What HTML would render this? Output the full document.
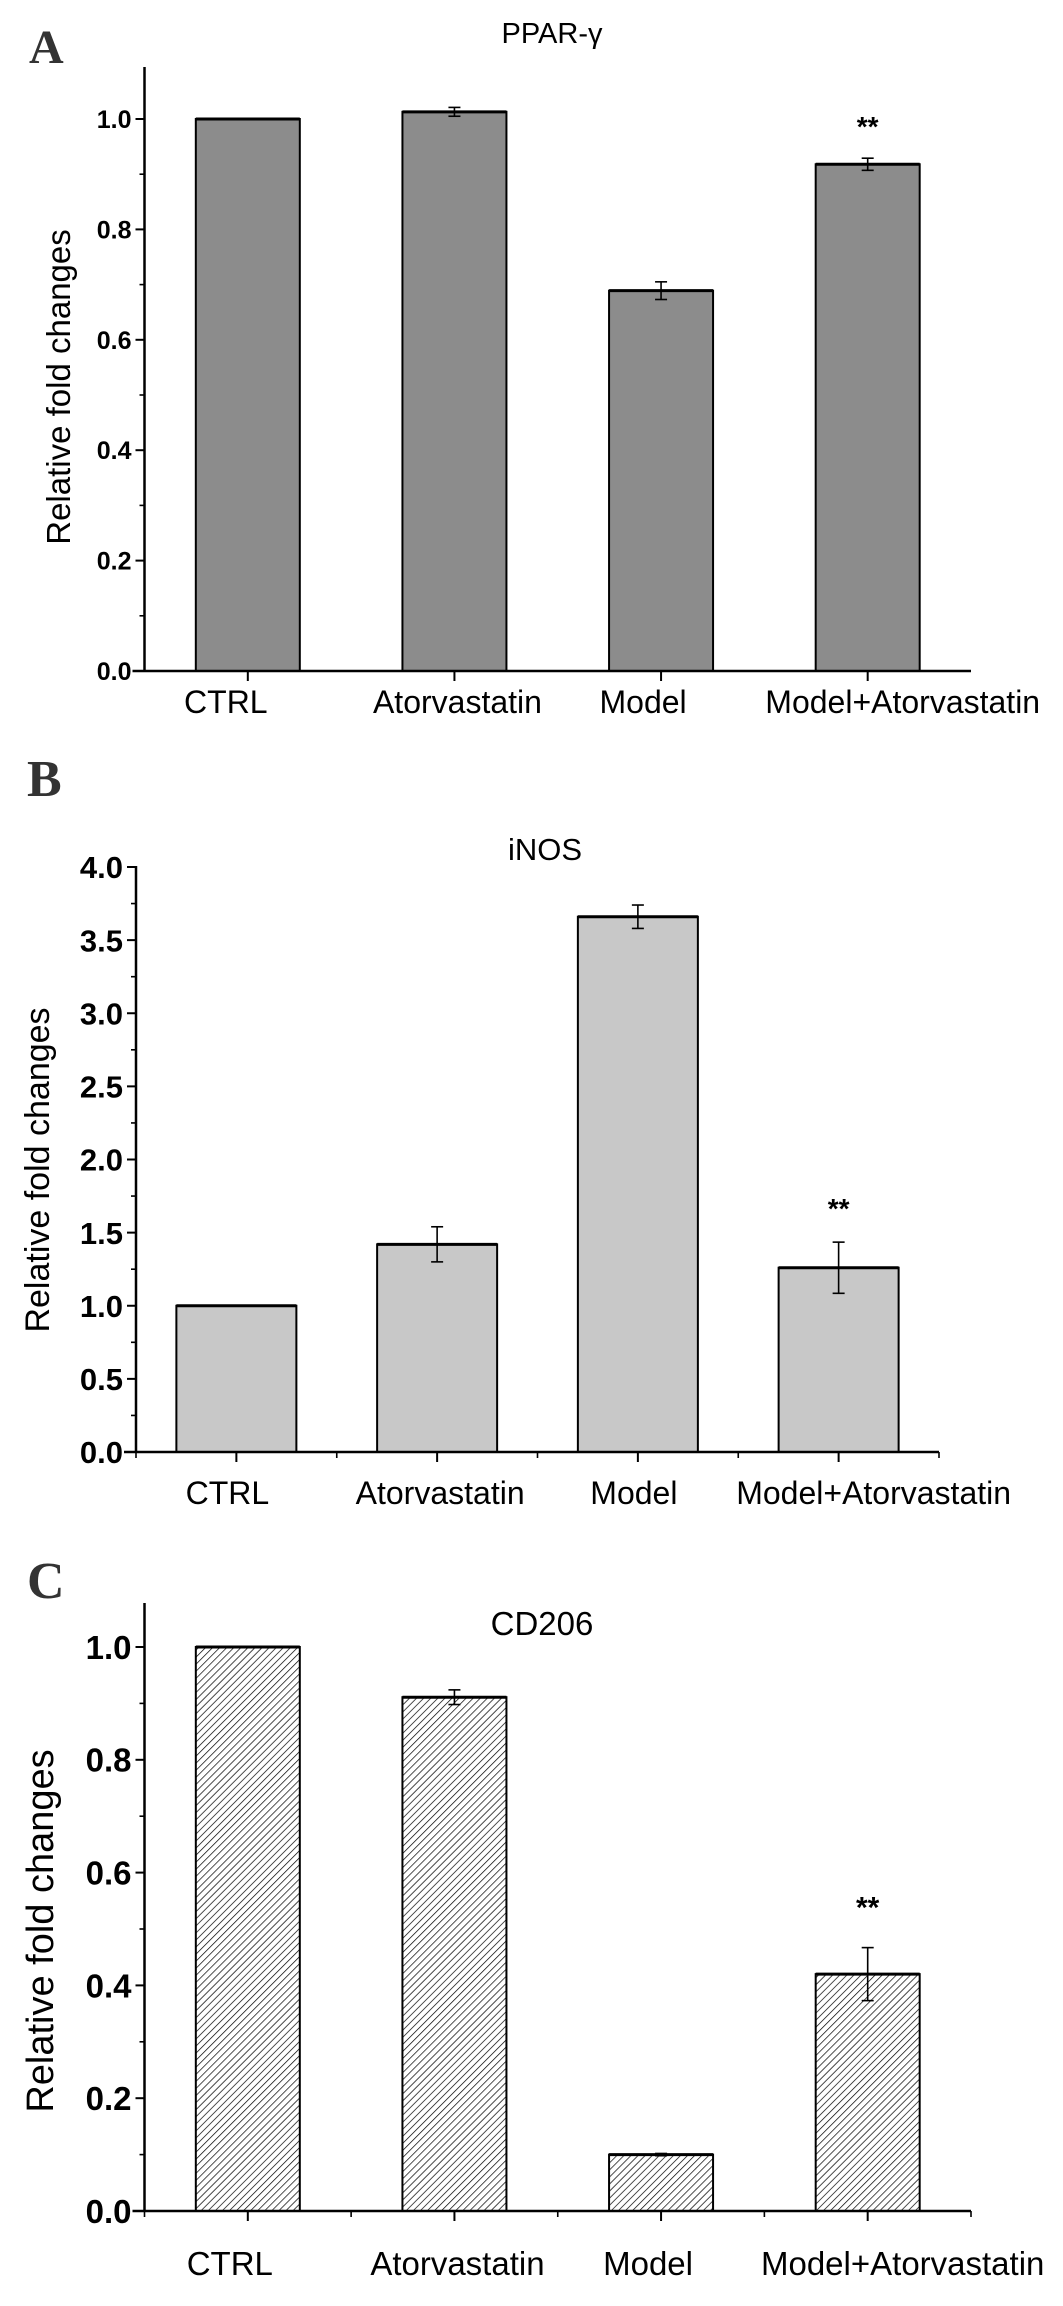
<!DOCTYPE html>
<html>
<head>
<meta charset="utf-8">
<style>
html,body{margin:0;padding:0;background:#fff;}
svg{display:block;}
text{font-family:"Liberation Sans",Arial,sans-serif;fill:#000;}
</style>
</head>
<body>
<svg id="fig" width="1063" height="2306" viewBox="0 0 1063 2306" xmlns="http://www.w3.org/2000/svg">
<defs>
<pattern id="hatch" patternUnits="userSpaceOnUse" width="5" height="5" patternTransform="rotate(45)">
<rect width="5" height="5" fill="#fff"/>
<line x1="0" y1="0" x2="0" y2="5" stroke="#000" stroke-width="1.4"/>
</pattern>
</defs>
</svg>
<script>
const categories = ["CTRL", "Atorvastatin", "Model", "Model+Atorvastatin"];
const ppargValues = [1.0, 1.013, 0.689, 0.918];
const ppargErrors = [0, 0.008, 0.016, 0.011];
const ppargStars = ["", "", "", "**"];
const ppargTicks = ["0.0", "0.2", "0.4", "0.6", "0.8", "1.0"];
const inosValues = [1.0, 1.42, 3.66, 1.26];
const inosErrors = [0, 0.12, 0.08, 0.175];
const inosStars = ["", "", "", "**"];
const inosTicks = ["0.0", "0.5", "1.0", "1.5", "2.0", "2.5", "3.0", "3.5", "4.0"];
const cd206Values = [1.0, 0.911, 0.10, 0.42];
const cd206Errors = [0, 0.013, 0.002, 0.047];
const cd206Stars = ["", "", "", "**"];
const cd206Ticks = ["0.0", "0.2", "0.4", "0.6", "0.8", "1.0"];

const NS = "http://www.w3.org/2000/svg";
const svg = document.getElementById("fig");
function mk(tag, attrs, parent) {
  const e = document.createElementNS(NS, tag);
  for (const k in attrs) e.setAttribute(k, attrs[k]);
  (parent || svg).appendChild(e);
  return e;
}

function panel(p) {
  const g = mk("g", {});
  
  
  const yScale = v => p.y0 - (v - p.vmin) / (p.vmax - p.vmin) * (p.y0 - p.yTop);
  const slot = (p.x1 - p.x0) / categories.length;
  const xCenter = i => p.x0 + slot * (i + 0.5);

  // panel letter
  const L = mk("text", {x: p.letterX, y: p.letterY, "font-family": "Liberation Serif, serif", "font-weight": "bold", "font-size": p.letterSize, fill: "#333"}, g);
  L.textContent = p.letter;
  L.style.fill = "#333";
  L.style.fontFamily = '"Liberation Serif", serif';
  
  

  // title
  const T = mk("text", {x: p.titleX, y: p.titleY, "text-anchor": "middle", "font-size": p.titleSize}, g);
  T.textContent = p.title;
  
  

  // bars
  p.values.forEach((v, i) => {
    const cx = xCenter(i);
    const top = yScale(v);
    const r = mk("rect", {x: cx - p.barW / 2, y: top, width: p.barW, height: p.y0 - top, fill: p.fill, stroke: "#000", "stroke-width": 2}, g);
    
    
    mk("line", {x1: cx - p.barW / 2, x2: cx + p.barW / 2, y1: top, y2: top, stroke: "#000", "stroke-width": 3}, g);
    const e = p.errors[i];
    if (e > 0) {
      const eg = mk("g", {stroke: "#000", "stroke-width": 1.6}, g);
      
      
      mk("line", {x1: cx, x2: cx, y1: yScale(v + e), y2: yScale(v - e)}, eg);
      mk("line", {x1: cx - 6, x2: cx + 6, y1: yScale(v + e), y2: yScale(v + e)}, eg);
      mk("line", {x1: cx - 6, x2: cx + 6, y1: yScale(v - e), y2: yScale(v - e)}, eg);
    }
    if (p.stars[i]) {
      const s = mk("text", {x: cx, y: yScale(v + e) - p.starGap, "text-anchor": "middle", "font-size": p.starSize, "font-weight": "bold"}, g);
      s.textContent = p.stars[i];
      
      
    }
    const lab = mk("text", {x: cx + p.labelOff[i], y: p.labelY, "text-anchor": "middle", "font-size": p.labelSize}, g);
    lab.textContent = categories[i];
    
    
  });

  // axes
  const ax = mk("g", {stroke: "#000", "stroke-width": 2.5}, g);
  
  
  mk("line", {x1: p.x0, x2: p.x0, y1: p.axisTop, y2: p.y0 + 1}, ax);
  mk("line", {x1: p.x0 - 12, x2: p.x1, y1: p.y0, y2: p.y0}, ax);
  // x ticks
  for (let i = 0; i < categories.length; i++) {
    mk("line", {x1: xCenter(i), x2: xCenter(i), y1: p.y0, y2: p.y0 + 10, "stroke-width": 2}, ax);
  }
  if (p.xMinor) {
    for (let i = 0; i <= categories.length; i++) {
      const x = p.x0 + slot * i;
      mk("line", {x1: x, x2: x, y1: p.y0, y2: p.y0 + 6, "stroke-width": 1.6}, ax);
    }
  }
  // y ticks
  const n = p.ticks.length;
  for (let k = 0; k < n; k++) {
    const v = p.vmin + (p.vmax - p.vmin) * k / (n - 1);
    const y = yScale(v);
    mk("line", {x1: p.x0 - 9, x2: p.x0, y1: y, y2: y, "stroke-width": 2}, ax);
    const t = mk("text", {x: p.x0 - 13, y: y + p.tickSize * 0.36, "text-anchor": "end", "font-size": p.tickSize, "font-weight": "bold"}, g);
    t.textContent = p.ticks[k];
    
    
    if (k < n - 1) {
      const step = (p.vmax - p.vmin) / (n - 1);
      const ym = yScale(v + step / 2);
      mk("line", {x1: p.x0 - 5, x2: p.x0, y1: ym, y2: ym, "stroke-width": 1.6}, ax);
    }
  }
  // y title
  const yt = mk("text", {x: 0, y: 0, "text-anchor": "middle", "font-size": p.ytSize, transform: "translate(" + p.ytX + "," + p.ytY + ") rotate(-90)"}, g);
  yt.textContent = "Relative fold changes";
  
  
}

const labelOff = [-22, 3, -18, 35];

panel({name: "panel-a-pparg", letter: "A", letterX: 29, letterY: 63, letterSize: 48,
  title: "PPAR-γ", titleX: 552, titleY: 43, titleSize: 29,
  values: ppargValues, errors: ppargErrors, stars: ppargStars, ticks: ppargTicks,
  vmin: 0, vmax: 1.0, y0: 671, yTop: 119, axisTop: 67,
  x0: 144.5, x1: 971, barW: 104, fill: "#8c8c8c",
  starGap: 22, starSize: 28, labelOff: labelOff, labelY: 713, labelSize: 32,
  tickSize: 25, ytX: 70, ytY: 387, ytSize: 33, xMinor: false});

panel({name: "panel-b-inos", letter: "B", letterX: 27, letterY: 796, letterSize: 52,
  title: "iNOS", titleX: 545, titleY: 860, titleSize: 31,
  values: inosValues, errors: inosErrors, stars: inosStars, ticks: inosTicks,
  vmin: 0, vmax: 4.0, y0: 1452, yTop: 867, axisTop: 866,
  x0: 136, x1: 939, barW: 120, fill: "#c8c8c8",
  starGap: 24, starSize: 28, labelOff: [-9, 3, -4, 35], labelY: 1504, labelSize: 32,
  tickSize: 31, ytX: 49, ytY: 1170, ytSize: 34, xMinor: true});

panel({name: "panel-c-cd206", letter: "C", letterX: 27, letterY: 1598, letterSize: 52,
  title: "CD206", titleX: 542, titleY: 1635, titleSize: 33,
  values: cd206Values, errors: cd206Errors, stars: cd206Stars, ticks: cd206Ticks,
  vmin: 0, vmax: 1.0, y0: 2211, yTop: 1647, axisTop: 1603,
  x0: 144.5, x1: 971, barW: 104, fill: "url(#hatch)",
  starGap: 30, starSize: 30, labelOff: [-18, 3, -13, 35], labelY: 2275, labelSize: 33,
  tickSize: 33, ytX: 53, ytY: 1931, ytSize: 38, xMinor: true});
</script>
</body>
</html>
